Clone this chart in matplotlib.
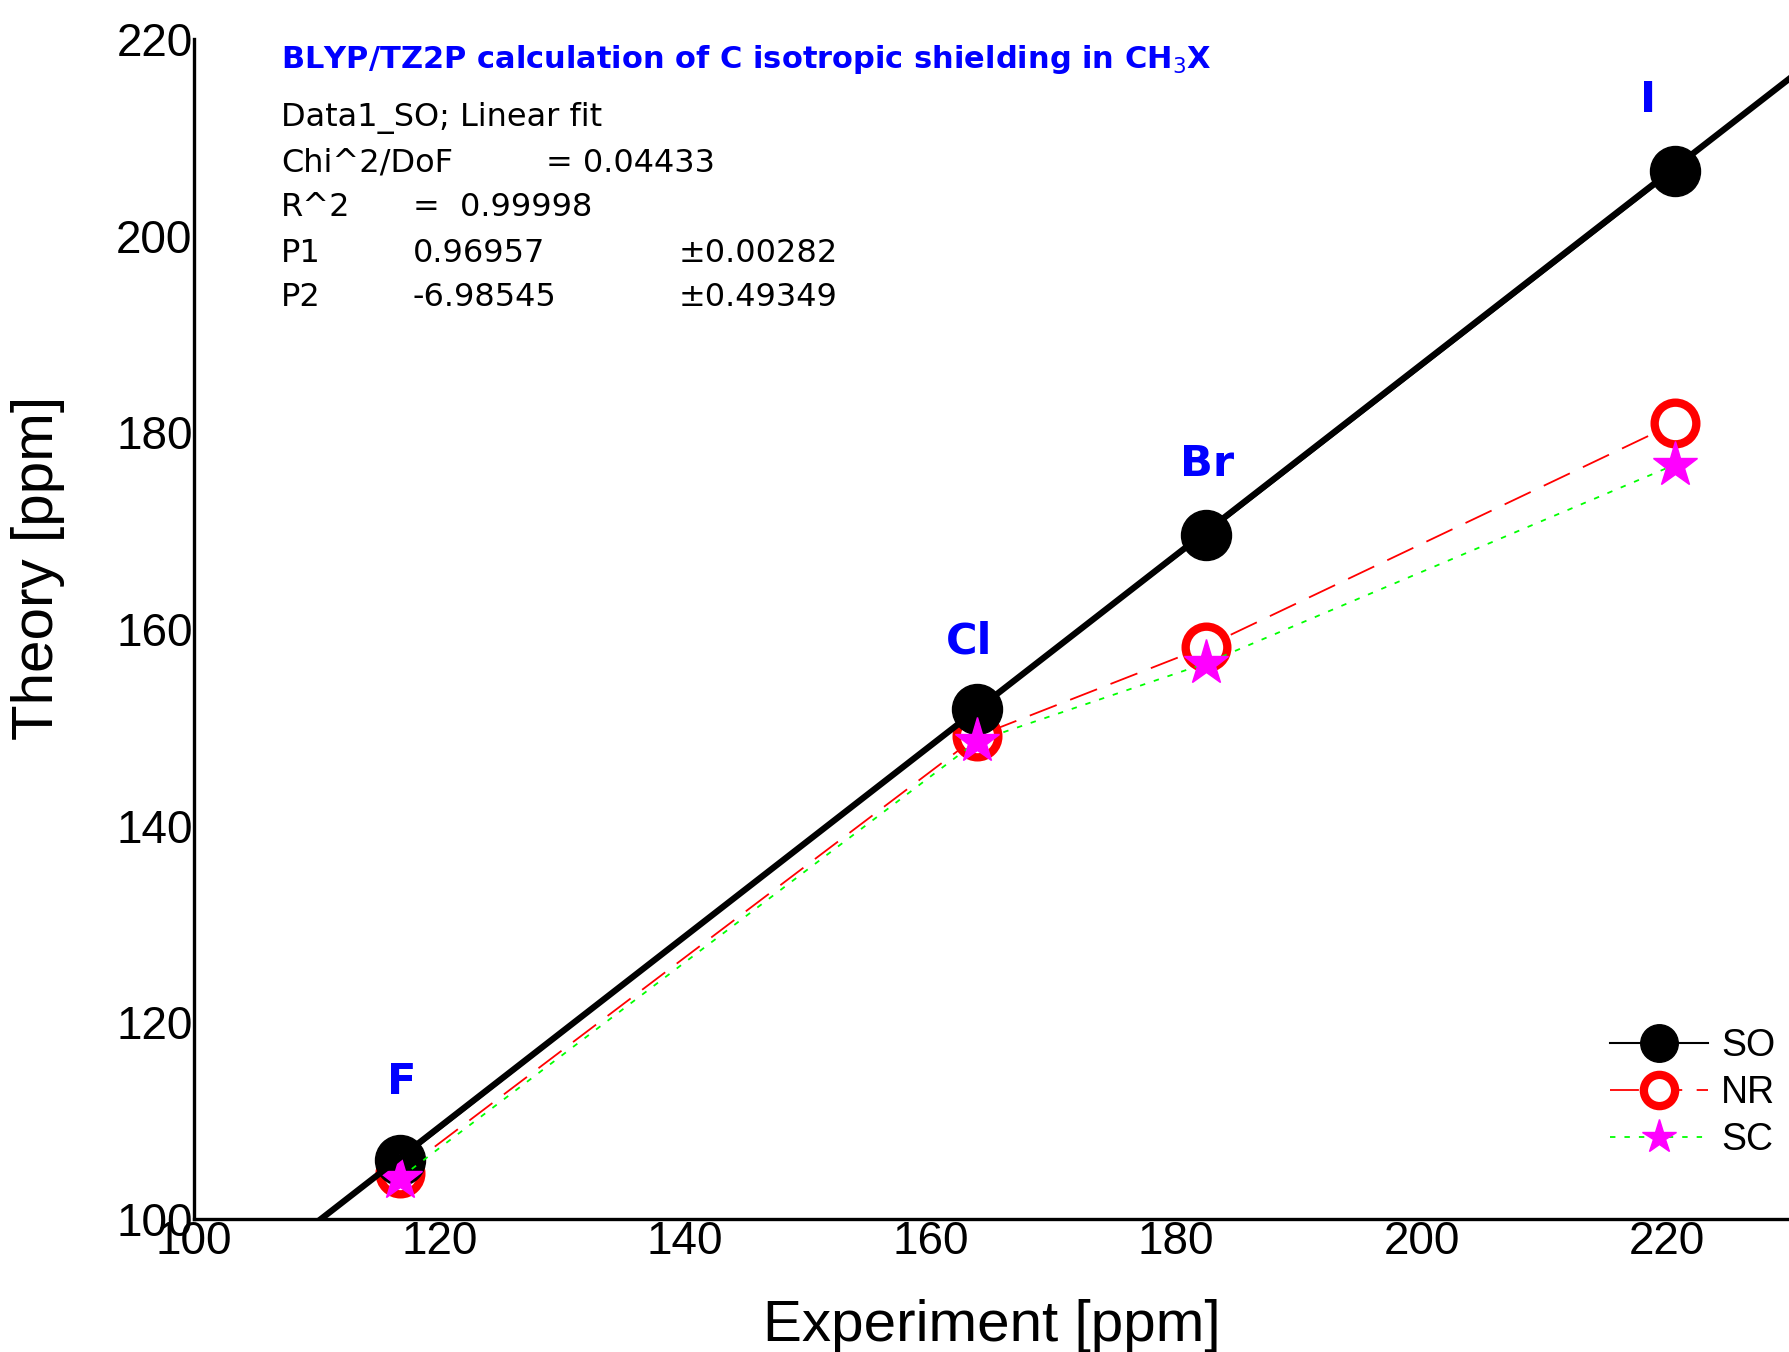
import numpy as np
import matplotlib
matplotlib.use('Agg')
import matplotlib.pyplot as plt

plt.rcParams['font.family'] = ['Liberation Sans', 'DejaVu Sans']
plt.rcParams['mathtext.fontset'] = 'custom'
plt.rcParams['mathtext.rm'] = 'DejaVu Sans'
plt.rcParams['mathtext.bf'] = 'DejaVu Sans:bold'

# data
halogens = ['F', 'Cl', 'Br', 'I']
experiment = [116.8, 163.8, 182.4, 220.6]
theory_so = [106.0, 151.9, 169.6, 206.6]
theory_nr = [104.7, 149.1, 158.2, 180.9]
theory_sc = [104.2, 148.6, 156.5, 176.7]

fit_p1 = 0.96957
fit_p2 = -6.98545
fit_lines = [
    ('Data1_SO; Linear fit', '', ''),
    ('Chi^2/DoF', '= 0.04433', ''),
    ('R^2', '=  0.99998', ''),
    ('P1', '0.96957', '\u00b10.00282'),
    ('P2', '-6.98545', '\u00b10.49349'),
]
title = 'BLYP/TZ2P calculation of C isotropic shielding in CH$_3$X'

W, H = 1790, 1352
fig = plt.figure(figsize=(W / 100, H / 100), dpi=100)
ax = fig.add_axes([194 / W, 1 - 1219 / H, 1 - 194 / W, (1219 - 39) / H])

blue = '#0000ff'

ax.plot(experiment, theory_so, '-', color='black', lw=1.5, marker='o', ms=36,
        mfc='black', mec='black', label='SO', zorder=5)
ax.plot(experiment, theory_nr, color='#ff0000', lw=1.3, dashes=(16, 8), marker='o',
        ms=30, mfc='white', mec='#ff0000', mew=6, label='NR', zorder=4)
ax.plot(experiment, theory_sc, color='#00ff00', lw=1.3, dashes=(3, 5), marker='*',
        ms=34, mfc='#ff00ff', mec='#ff00ff', mew=1, label='SC', zorder=6)

# linear fit of the SO data
xf = np.array([100.0, 230.0])
ax.plot(xf, fit_p1 * xf + fit_p2, '-', color='black', lw=4.5, zorder=7)

# element labels, offsets in points
label_offsets = [(1, 56), (-6, 48), (1, 51), (-19, 51)]
for name, xv, yv, off in zip(halogens, experiment, theory_so, label_offsets):
    ax.annotate(name, (xv, yv), xytext=off, textcoords='offset points',
                ha='center', va='center', color=blue, fontsize=31,
                fontweight='bold', family='DejaVu Sans')

ax.set_xlim(100, 230)
ax.set_ylim(100, 220)
ax.set_xticks(np.arange(100, 221, 20))
ax.set_yticks(np.arange(100, 221, 20))
ax.tick_params(length=0, labelsize=33, pad=1)
ax.spines['top'].set_visible(False)
ax.spines['right'].set_visible(False)
ax.spines['left'].set_linewidth(2.4)
ax.spines['bottom'].set_linewidth(2.4)

ax.set_xlabel('Experiment [ppm]', fontsize=42, va='baseline')
ax.xaxis.set_label_coords(0.5, -0.103)
ax.set_ylabel('Theory [ppm]', fontsize=42, va='center')
ax.yaxis.set_label_coords(-0.0977, 0.552)

leg = ax.legend(loc='center right', bbox_to_anchor=(1775 / W, 1 - 1093 / H),
                bbox_transform=fig.transFigure, frameon=False, fontsize=27,
                markerscale=0.75, handlelength=2.6, handletextpad=0.35,
                labelspacing=0.3, borderpad=0, borderaxespad=0)

# fit report block
fig.text(281 / W, 1 - 60 / H, title, color=blue, fontsize=22,
         fontweight='bold', va='center', family='DejaVu Sans')
col_x = [281, 413, 679]
special_x = {'= 0.04433': 546}
for i, row in enumerate(fit_lines):
    yc = 118 + 45 * i
    for j, s in enumerate(row):
        if not s:
            continue
        xp = special_x.get(s, col_x[j])
        fig.text(xp / W, 1 - yc / H, s, fontsize=23, va='center',
                 family='DejaVu Sans')

fig.savefig('out.png', dpi=100)
